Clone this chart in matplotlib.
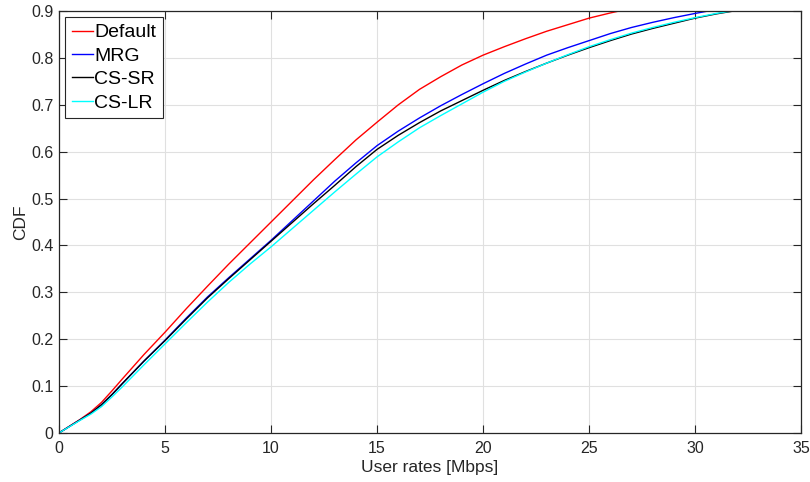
import matplotlib.pyplot as plt
import numpy as np

plt.rcParams['font.family'] = ['Liberation Sans', 'DejaVu Sans']

# values (x = user rate in Mbps, y = CDF)
x_default = [0, 1, 1.5, 2, 2.5, 3, 4, 5, 6, 7, 8, 9, 10, 11, 12, 13, 14, 15, 16, 17,
             18, 19, 20, 21, 22, 23, 24, 25, 26, 26.4]
y_default = [0, 0.029, 0.045, 0.065, 0.09, 0.116, 0.167, 0.215, 0.265, 0.313, 0.36,
             0.405, 0.45, 0.495, 0.54, 0.583, 0.625, 0.663, 0.7, 0.733, 0.76, 0.785,
             0.806, 0.824, 0.841, 0.857, 0.871, 0.885, 0.896, 0.9]

x_mrg = [0, 1, 1.5, 2, 2.5, 3, 4, 5, 6, 7, 8, 9, 10, 11, 12, 13, 14, 15, 16, 17, 18,
         19, 20, 21, 22, 23, 24, 25, 26, 27, 28, 29, 30, 30.6]
y_mrg = [0, 0.028, 0.042, 0.06, 0.082, 0.106, 0.153, 0.198, 0.245, 0.29, 0.331,
         0.371, 0.411, 0.453, 0.495, 0.537, 0.576, 0.613, 0.644, 0.672, 0.698,
         0.722, 0.745, 0.767, 0.787, 0.806, 0.822, 0.837, 0.852, 0.865, 0.876,
         0.886, 0.895, 0.9]

x_cssr = [0, 1, 1.5, 2, 2.5, 3, 4, 5, 6, 7, 8, 9, 10, 11, 12, 13, 14, 15, 16, 17, 18,
          19, 20, 21, 22, 23, 24, 25, 26, 27, 28, 29, 30, 31, 31.8]
y_cssr = [0, 0.028, 0.042, 0.06, 0.082, 0.106, 0.153, 0.197, 0.243, 0.288, 0.329,
          0.369, 0.409, 0.449, 0.489, 0.528, 0.568, 0.605, 0.635, 0.662, 0.687,
          0.709, 0.731, 0.752, 0.771, 0.789, 0.806, 0.822, 0.837, 0.851, 0.863,
          0.874, 0.885, 0.894, 0.9]

x_cslr = [0, 1, 1.5, 2, 2.5, 3, 4, 5, 6, 7, 8, 9, 10, 11, 12, 13, 14, 15, 16, 17, 18,
          19, 20, 21, 22, 23, 24, 25, 26, 27, 28, 29, 30, 31, 31.7]
y_cslr = [0, 0.027, 0.04, 0.056, 0.077, 0.099, 0.145, 0.19, 0.235, 0.279, 0.321,
          0.36, 0.397, 0.436, 0.475, 0.514, 0.552, 0.589, 0.621, 0.651, 0.677,
          0.702, 0.727, 0.75, 0.77, 0.789, 0.807, 0.824, 0.839, 0.853, 0.865,
          0.876, 0.886, 0.895, 0.9]

fig = plt.figure(figsize=(8.1, 4.82), dpi=100)
ax = fig.add_axes([0.073, 0.102, 0.916, 0.875])

ax.plot(x_default, y_default, c='red', lw=1.0, label='Default')
ax.plot(x_mrg, y_mrg, c='blue', lw=1.0, label='MRG')
ax.plot(x_cssr, y_cssr, c='black', lw=1.0, label='CS-SR')
ax.plot(x_cslr, y_cslr, c='cyan', lw=1.0, label='CS-LR')

ax.set_xlim(0, 35)
ax.set_ylim(0, 0.9)
ax.set_xticks(np.arange(0, 36, 5))
ax.set_yticks(np.arange(0, 0.91, 0.1))
ax.set_yticklabels(['0', '0.1', '0.2', '0.3', '0.4', '0.5', '0.6', '0.7', '0.8', '0.9'])

ax.set_xlabel('User rates [Mbps]', fontsize=12.5, color='#262626', labelpad=3)
ax.set_ylabel('CDF', fontsize=12.5, color='#262626', labelpad=2)

ax.grid(True, color='#e0e0e0', linewidth=0.8)
ax.set_axisbelow(True)
ax.tick_params(direction='in', top=True, right=True, length=5.5, width=0.8,
               labelsize=11.5, colors='#262626')
ax.tick_params(axis='x', pad=6)
ax.tick_params(axis='y', pad=4)
for sp in ax.spines.values():
    sp.set_color('#262626')
    sp.set_linewidth(0.9)

leg = ax.legend(loc='upper left', fontsize=14, fancybox=False, framealpha=1,
                edgecolor='#262626', handlelength=1.1, handletextpad=0.05,
                borderpad=0.35, labelspacing=0.3, borderaxespad=0.3)
leg.get_frame().set_linewidth(0.8)

fig.savefig('out.png')
